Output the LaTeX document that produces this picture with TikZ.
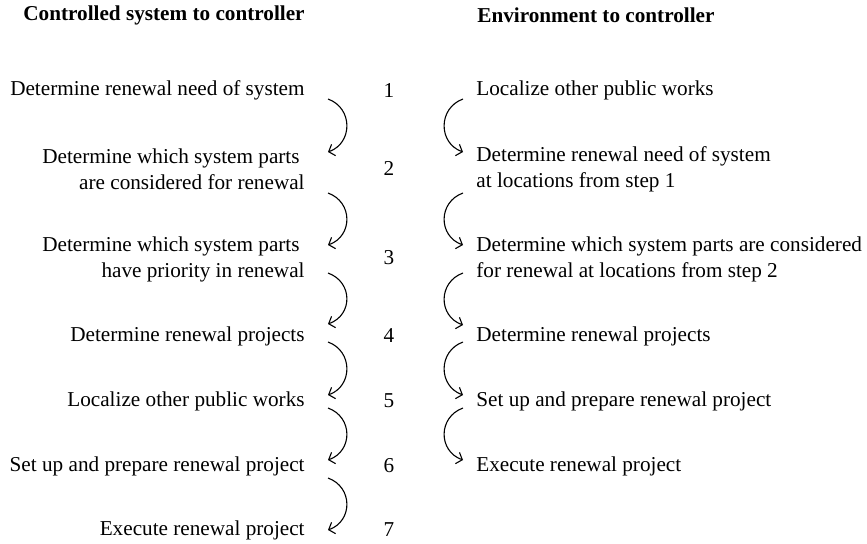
\documentclass[tikz,border=0pt]{standalone}
\usepackage{fontspec}
\setmainfont{Liberation Serif}
\usepackage{tikz}
\usetikzlibrary{arrows.meta,positioning}

\begin{document}
\begin{tikzpicture}[
    x=0.5pt, y=-0.5pt,
    txt/.style={inner sep=0pt, font=\fontsize{10.6}{13}\selectfont},
    lefttext/.style={txt, anchor=east, align=right},
    righttext/.style={txt, anchor=west, align=left},
    head/.style={txt, anchor=west, font=\fontsize{10.6}{13}\selectfont\bfseries},
    num/.style={txt},
    arrow/.style={-{Straight Barb[length=2.6pt,width=6pt]}, line width=0.55pt}
]
  \useasboundingbox (0,0) rectangle (867,543);

  % Headers
  \node[head] (hleft) at (23,15) {Controlled system to controller};
  \node[head] (hright) at (477,15) {Environment to controller};

  % Controlled system to controller
  \node[lefttext] (l1) at (305,90) {Determine renewal need of system};
  \node[lefttext] (l2) at (305,169) {Determine which system parts\hspace*{2.5pt}\\are considered for renewal};
  \node[lefttext] (l3) at (305,259) {Determine which system parts\hspace*{2.5pt}\\have priority in renewal};
  \node[lefttext] (l4) at (305,336) {Determine renewal projects};
  \node[lefttext] (l5) at (305,401) {Localize other public works};
  \node[lefttext] (l6) at (305,466) {Set up and prepare renewal project};
  \node[lefttext] (l7) at (305,530) {Execute renewal project};

  % Step numbers
  \node[num] (n1) at (389,90) {1};
  \node[num] (n2) at (389,168) {2};
  \node[num] (n3) at (389,258) {3};
  \node[num] (n4) at (389,336) {4};
  \node[num] (n5) at (389,401) {5};
  \node[num] (n6) at (389,466) {6};
  \node[num] (n7) at (389,530) {7};

  % Environment to controller
  \node[righttext] (r1) at (476,90) {Localize other public works};
  \node[righttext] (r2) at (476,169) {Determine renewal need of system\\at locations from step 1};
  \node[righttext] (r3) at (476,259) {Determine which system parts are considered\\for renewal at locations from step 2};
  \node[righttext] (r4) at (476,336) {Determine renewal projects};
  \node[righttext] (r5) at (476,401) {Set up and prepare renewal project};
  \node[righttext] (r6) at (476,466) {Execute renewal project};

  % Arrow ends, left
  \coordinate (ls1) at (328,99);  \coordinate (le1) at (328,152);
  \coordinate (ls2) at (328,193); \coordinate (le2) at (328,245);
  \coordinate (ls3) at (328,273); \coordinate (le3) at (328,324);
  \coordinate (ls4) at (328,342); \coordinate (le4) at (328,395);
  \coordinate (ls5) at (328,408); \coordinate (le5) at (328,460);
  \coordinate (ls6) at (328,478); \coordinate (le6) at (328,530);

  % Arrow ends, right
  \coordinate (rs1) at (463,99);  \coordinate (re1) at (463,152);
  \coordinate (rs2) at (463,193); \coordinate (re2) at (463,245);
  \coordinate (rs3) at (463,273); \coordinate (re3) at (463,325);
  \coordinate (rs4) at (463,342); \coordinate (re4) at (463,395);
  \coordinate (rs5) at (463,408); \coordinate (re5) at (463,460);

  % Arrows
  \draw[arrow] (ls1) .. controls +(25,9) and +(25,-9) .. (le1);
  \draw[arrow] (ls2) .. controls +(25,9) and +(25,-9) .. (le2);
  \draw[arrow] (ls3) .. controls +(25,9) and +(25,-9) .. (le3);
  \draw[arrow] (ls4) .. controls +(25,9) and +(25,-9) .. (le4);
  \draw[arrow] (ls5) .. controls +(25,9) and +(25,-9) .. (le5);
  \draw[arrow] (ls6) .. controls +(25,9) and +(25,-9) .. (le6);
  \draw[arrow] (rs1) .. controls +(-25,9) and +(-25,-9) .. (re1);
  \draw[arrow] (rs2) .. controls +(-25,9) and +(-25,-9) .. (re2);
  \draw[arrow] (rs3) .. controls +(-25,9) and +(-25,-9) .. (re3);
  \draw[arrow] (rs4) .. controls +(-25,9) and +(-25,-9) .. (re4);
  \draw[arrow] (rs5) .. controls +(-25,9) and +(-25,-9) .. (re5);

\end{tikzpicture}
\end{document}
